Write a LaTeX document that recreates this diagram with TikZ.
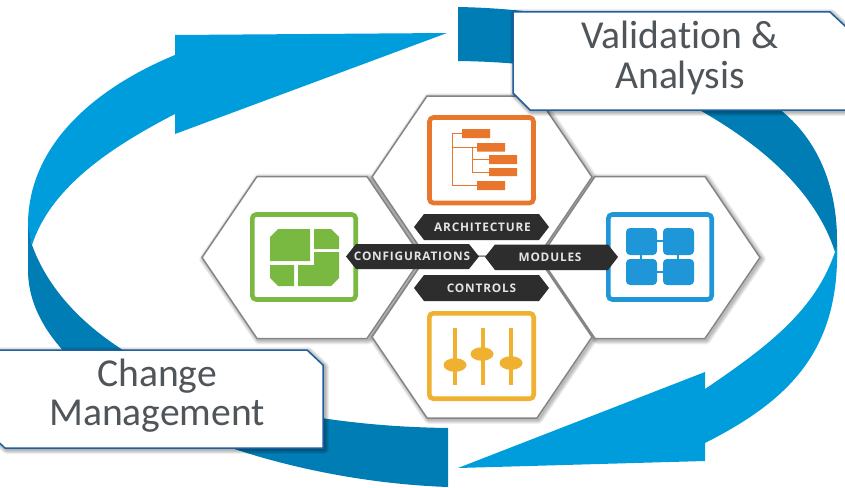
\documentclass[tikz,border=0pt]{standalone}
\usepackage{fontspec}
\setmainfont[Ligatures=NoCommon]{Carlito}
\newfontfamily\tagfont[LetterSpace=7]{Open Sans}
\usetikzlibrary{shapes.geometric}
\definecolor{lightblue}{HTML}{009DDC}
\definecolor{darkblue}{HTML}{007DB5}
\definecolor{boxedge}{HTML}{1F5F9F}
\definecolor{labeltext}{HTML}{50555A}
\definecolor{hexedge}{HTML}{858585}
\definecolor{tagfill}{HTML}{2D2D2D}
\definecolor{tagtext}{HTML}{E4E4E4}
\definecolor{orangeicon}{HTML}{E8762C}
\definecolor{greenicon}{HTML}{7AB941}
\definecolor{blueicon}{HTML}{1F96D8}
\definecolor{yellowicon}{HTML}{F0B030}
\tikzset{
  iconframe/.style={rounded corners=4pt,line width=4.6pt,fill=white},
  labelnode/.style={text=labeltext,align=center,font=\fontsize{39.6}{39.5}\selectfont,inner sep=0pt},
  tagnode/.style={text=tagtext,font=\tagfont\bfseries\fontsize{11.8}{13}\selectfont,inner sep=0pt},
  hexface/.style={draw=hexedge,line width=1.5pt,fill=white,line join=miter},
  calloutbox/.style={draw=boxedge,line width=1.5pt,fill=white,line join=miter},
}
\newcommand{\softshadow}[3]{%
  \foreach \w in {1,2,...,#3}{\draw[line width=\w pt,black,opacity=#2,line join=round,shift={(1.5pt,-1.5pt)}] #1;}}
\newcommand{\hexpath}[2]{(#1-55,#2) -- (#1,#2-81) -- (#1+110,#2-81) -- (#1+165,#2) -- (#1+110,#2+81) -- (#1,#2+81) -- cycle}
\newcommand{\tagshape}[6]{%
  \fill[tagfill] (#2,#5) -- (#2+10,#4) -- (#3-10,#4) -- (#3,#5) -- (#3-10,#6) -- (#2+10,#6) -- cycle;
  \coordinate (#1c) at ({(#2+#3)/2},#5);}
\begin{document}
\begin{tikzpicture}[x=1pt,y=-1pt]
\useasboundingbox (0,0) rectangle (845,487);
\clip (0,0) rectangle (845,487);
% circular arrows
\fill[darkblue] (458,7) .. controls (620,10) and (720,60) .. (783,112)
  .. controls (820,143) and (837,190) .. (837,240) -- (837,257) -- (835,252)
  .. controls (815,190) and (760,145) .. (703,112)
  .. controls (630,75) and (540,62) .. (458,61) -- cycle;
\fill[darkblue] (28,222) -- (28,270) .. controls (28,390) and (250,480) .. (448,487)
  -- (448,428) .. controls (220,425) and (70,350) .. (32,245) -- cycle;
\fill[lightblue] (447,33) -- (175,35) -- (175,55)
  .. controls (95,88) and (28,145) .. (28,225) -- (32,245)
  .. controls (50,190) and (105,150) .. (175,114)
  -- (175,134) -- cycle;
\fill[lightblue] (458,468) -- (705,372) -- (705,389)
  .. controls (770,345) and (815,310) .. (835,252) -- (837,245)
  .. controls (840,350) and (790,400) .. (705,443)
  -- (705,461) -- cycle;
% hexagon shadows
\softshadow{\hexpath{427}{177}}{0.035}{9}
\softshadow{\hexpath{257}{257.5}}{0.035}{9}
\softshadow{\hexpath{595}{257.5}}{0.035}{9}
\softshadow{\hexpath{427}{337}}{0.035}{9}
% hexagons
\draw[hexface] \hexpath{427}{177};
\draw[hexface] \hexpath{257}{257.5};
\draw[hexface] \hexpath{595}{257.5};
\draw[hexface] \hexpath{427}{337};
% orange icon
\draw[iconframe,draw=orangeicon] (429.5,117.5) rectangle (533.5,203);
\draw[orangeicon,line width=1pt] (462,133.5) -- (452,133.5) -- (452,185.5) -- (477,185.5) (452,147) -- (477,147) (472,147) -- (472,172) -- (489,172) (472,159.5) -- (489,159.5);
\fill[orangeicon] (462,129) rectangle (490,138) (477,143) rectangle (505,151.5) (489,155) rectangle (517,164) (489,168) rectangle (517,176) (477,181) rectangle (505,190);
% green icon
\draw[iconframe,draw=greenicon] (252.3,214.5) rectangle (355.7,299.5);
\fill[greenicon] (270,237) -- (278,229) -- (310,229) -- (310,261) -- (270,261) -- cycle;
\fill[greenicon] (314,229) -- (331,229) -- (339,237) -- (339,249) -- (314,249) -- cycle;
\fill[greenicon] (270,265) -- (294,265) -- (294,286) -- (278,286) -- (270,278) -- cycle;
\fill[greenicon] (314,252) -- (339,252) -- (339,278) -- (331,286) -- (298,286) -- (298,265) -- (314,265) -- cycle;
% blue icon
\draw[iconframe,draw=blueicon] (608.3,214.5) rectangle (711.7,299.5);
\draw[blueicon,line width=1.2pt] (657,241) -- (663,241) (657,272) -- (663,272) (641,255) -- (641,259) (678,255) -- (678,259);
\fill[blueicon,rounded corners=4pt] (626,228) rectangle (657,255);
\fill[blueicon,rounded corners=4pt] (663,228) rectangle (694,255);
\fill[blueicon,rounded corners=4pt] (626,259) rectangle (657,285);
\fill[blueicon,rounded corners=4pt] (663,259) rectangle (694,285);
% yellow icon
\draw[iconframe,draw=yellowicon] (429.3,313.3) rectangle (533.7,398.7);
\draw[yellowicon,line width=4.6pt] (455,328) -- (455,385) (483,328) -- (483,385) (511,328) -- (511,385);
\fill[yellowicon] (455,365) ellipse [x radius=11.5pt,y radius=6.8pt];
\fill[yellowicon] (482,354) ellipse [x radius=11.5pt,y radius=6.8pt];
\fill[yellowicon] (511,363) ellipse [x radius=11.5pt,y radius=6.8pt];
% tags
\tagshape{arch}{414}{549}{214}{227}{240}
\tagshape{conf}{346}{479}{244}{256.5}{269}
\tagshape{modu}{485}{618}{244.5}{257}{270}
\tagshape{ctrl}{414}{549}{275}{288}{301}
\node[tagnode] (archtext) at (482.5,227.5) {ARCHITECTURE};
\node[tagnode] (conftext) at (412,256.5) {CONFIGURATIONS};
\node[tagnode] (modutext) at (550,257) {MODULES};
\node[tagnode] (ctrltext) at (481.5,288) {CONTROLS};
% callout boxes
\softshadow{(513,12) -- (830,12) -- (860,40) -- (860,110) -- (530,110) -- (513,93) -- cycle}{0.04}{9}
\draw[calloutbox] (513,12) -- (830,12) -- (860,40) -- (860,110) -- (530,110) -- (513,93) -- cycle;
\softshadow{(-20,350) -- (307,350) -- (323,365) -- (323,448) -- (5,448) -- (-20,425) -- cycle}{0.04}{9}
\draw[calloutbox] (-20,350) -- (307,350) -- (323,365) -- (323,448) -- (5,448) -- (-20,425) -- cycle;
\node[labelnode] (validation) at (680,58) {Validation \&\\Analysis};
\node[labelnode] (change) at (157,395.5) {Change\\Management};
\end{tikzpicture}
\end{document}
